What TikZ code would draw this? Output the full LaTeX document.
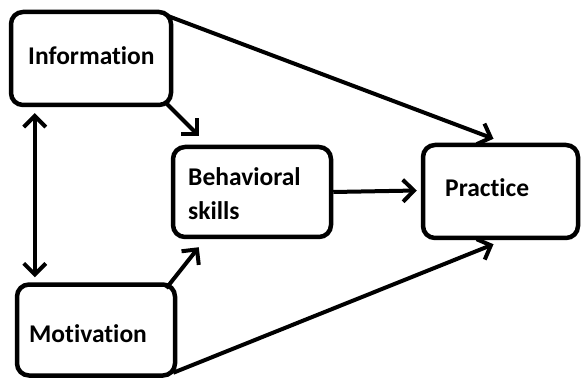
\documentclass[tikz,border=0pt]{standalone}
\usepackage{fontspec}
\setmainfont[Ligatures={NoCommon,NoRare,NoContextual}]{Carlito}
\usetikzlibrary{arrows.meta,calc}
\begin{document}
\begin{tikzpicture}[x=1pt,y=-1pt,
  box/.style={draw=black,line width=4.5pt,rounded corners=12pt,fill=white,inner sep=0pt},
  lbl/.style={anchor=base west,inner sep=0pt,font=\fontsize{25.5pt}{34pt}\selectfont\bfseries},
  tip/.style={Straight Barb[length=11pt,width=22pt,line width=4pt]},
  conn/.style={line width=4pt,-{Straight Barb[length=11pt,width=22pt,line width=4pt]}},
  dconn/.style={line width=4pt,{Straight Barb[length=11pt,width=22pt,line width=4pt]}-{Straight Barb[length=11pt,width=22pt,line width=4pt]}}]
\useasboundingbox (0,0) rectangle (581,382);
\node[box,minimum width=160pt,minimum height=93pt] (info) at (91,58.5) {};
\node[box,minimum width=158pt,minimum height=90pt] (beh) at (252,192) {};
\node[box,minimum width=158pt,minimum height=91pt] (mot) at (96,330) {};
\node[box,minimum width=155pt,minimum height=93pt] (prac) at (500.5,191.5) {};
\node[lbl] (tinfo) at (28,65) {Information};
\node[lbl] (tbeh1) at (188,186) {Behavioral};
\node[lbl] (tbeh2) at (188,220) {skills};
\node[lbl] (tmot) at (29,342) {Motivation};
\node[lbl] (tprac) at (445,197) {Practice};
% connectors
\draw[conn] ($(info.north east)+(-6,6)$) -- ($(prac.north)+(-7,-4)$);
\draw[conn] ($(info.south east)+(-7,-4)$) -- ($(beh.north west)+(28,-9)$);
\draw[conn] ($(mot.north east)+(-11,6)$) -- ($(beh.south west)+(28,8)$);
\draw[conn] ($(mot.south east)+(-4,-5)$) -- ($(prac.south)+(-7,4)$);
\draw[conn] (beh.east) -- ($(prac.west)+(-4,-1)$);
\draw[dconn] ($(info.south west)+(26,6)$) -- ($(mot.north west)+(20,-5)$);
\end{tikzpicture}
\end{document}
